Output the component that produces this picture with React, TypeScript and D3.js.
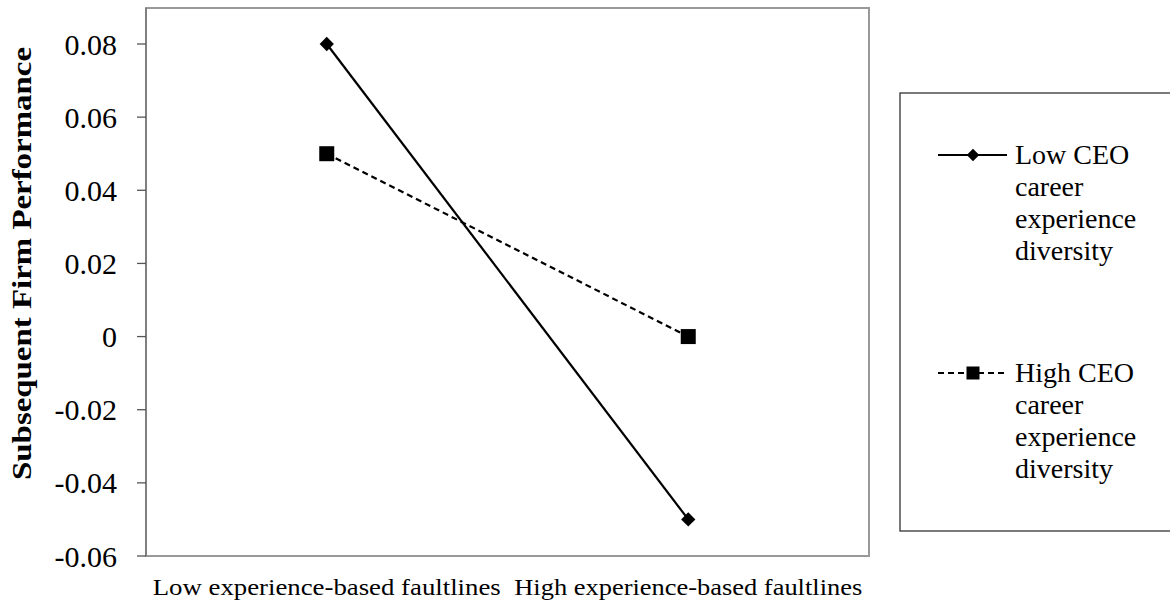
import React from "react";
import * as d3 from "d3";

const categories = ["Low experience-based faultlines", "High experience-based faultlines"];
const lowCEO = [0.08, -0.05];
const highCEO = [0.05, 0.0];
const yTicks = [-0.06, -0.04, -0.02, 0, 0.02, 0.04, 0.06, 0.08];
const seriesNames = [
  ["Low CEO", "career", "experience", "diversity"],
  ["High CEO", "career", "experience", "diversity"],
];

const W = 1170, H = 606;
const plot = { left: 146, right: 869, top: 8, bottom: 556 };
const FONT = "'Liberation Serif', 'Times New Roman', serif";

export default function App() {
  const x = d3.scaleBand<string>().domain(categories).range([plot.left, plot.right]);
  const y = d3.scaleLinear().domain([-0.06, 0.08]).range([plot.bottom, 44]);
  const cx = (c: string) => (x(c) as number) + x.bandwidth() / 2;
  const line = d3
    .line<number>()
    .x((_, i) => cx(categories[i]))
    .y((d) => y(d));
  const diamond = d3.symbol().type(d3.symbolDiamond2);
  const fmt = (v: number) => (v === 0 ? "0" : d3.format(".2f")(v).replace("\u2212", "-"));

  const legendItems = [
    { names: seriesNames[0], lineY: 155, dashed: false, marker: "diamond" },
    { names: seriesNames[1], lineY: 373, dashed: true, marker: "square" },
  ];

  return (
    <svg
      width={W}
      height={H}
      style={{ position: "absolute", left: 0, top: 0, background: "#fff" }}
      fontFamily={FONT}
    >
      <rect x={0} y={0} width={W} height={H} fill="#fff" />
      {/* plot border */}
      <rect
        x={plot.left}
        y={plot.top}
        width={plot.right - plot.left}
        height={plot.bottom - plot.top}
        fill="none"
        stroke="#999"
        strokeWidth={2}
      />
      {/* y axis line */}
      <line x1={plot.left} x2={plot.left} y1={plot.top} y2={plot.bottom} stroke="#7f7f7f" strokeWidth={2} />
      {yTicks.map((t) => (
        <g key={t}>
          <line x1={plot.left - 9} x2={plot.left} y1={y(t)} y2={y(t)} stroke="#555" strokeWidth={1.3} />
          <text x={117} y={y(t)} dy={10.5} textAnchor="end" fontSize={30} fill="#000">
            {fmt(t)}
          </text>
        </g>
      ))}
      {categories.map((c) => (
        <text
          key={c}
          x={cx(c)}
          y={595}
          textAnchor="middle"
          fontSize={24}
          textLength={348}
          lengthAdjust="spacingAndGlyphs"
          fill="#000"
        >
          {c}
        </text>
      ))}
      <text
        transform={`translate(31,263.5) rotate(-90)`}
        textAnchor="middle"
        fontSize={28}
        fontWeight="bold"
        textLength={433}
        lengthAdjust="spacingAndGlyphs"
        fill="#000"
      >
        Subsequent Firm Performance
      </text>

      {/* series */}
      <path d={line(highCEO) || ""} fill="none" stroke="#000" strokeWidth={2.2} strokeDasharray="6,4" />
      <path d={line(lowCEO) || ""} fill="none" stroke="#000" strokeWidth={2.2} />
      {lowCEO.map((v, i) => (
        <path
          key={"d" + i}
          d={diamond.size(130)() || ""}
          transform={`translate(${cx(categories[i])},${y(v)})`}
          fill="#000"
        />
      ))}
      {highCEO.map((v, i) => (
        <rect
          key={"s" + i}
          x={cx(categories[i]) - 7.5}
          y={y(v) - 7.5}
          width={15}
          height={15}
          fill="#000"
        />
      ))}

      {/* legend */}
      <rect x={900} y={93} width={300} height={438} fill="#fff" stroke="#333" strokeWidth={1.3} />
      {legendItems.map((it, k) => (
        <g key={k}>
          <line
            x1={938}
            x2={1007}
            y1={it.lineY}
            y2={it.lineY}
            stroke="#000"
            strokeWidth={2}
            strokeDasharray={it.dashed ? "6,4" : undefined}
          />
          {it.marker === "diamond" ? (
            <path d={diamond.size(100)() || ""} transform={`translate(973,${it.lineY})`} fill="#000" />
          ) : (
            <rect x={973 - 6.5} y={it.lineY - 6.5} width={13} height={13} fill="#000" />
          )}
          {it.names.map((n, j) => (
            <text key={n} x={1015} y={it.lineY + 9 + j * 32} fontSize={28} fill="#000">
              {n}
            </text>
          ))}
        </g>
      ))}
    </svg>
  );
}
